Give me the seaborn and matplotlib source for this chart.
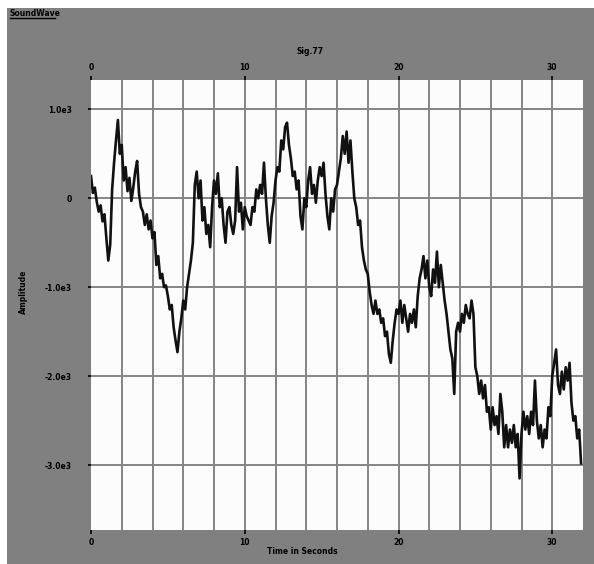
import numpy as np
import pandas as pd
import seaborn as sns
import matplotlib
matplotlib.use("Agg")
import matplotlib.pyplot as plt
from matplotlib.patches import Rectangle
from matplotlib.lines import Line2D

# =============================================================================
# Data (one sample every 0.125 s, one row = 1 s)
# =============================================================================
sample_step = 0.125

amplitude = [
    250, 60, 120, -40, -150, -80, -260, -180,
    -450, -700, -520, 100, 400, 650, 880, 500,
    600, 200, 350, 80, 230, -30, 120, 300,
    420, 50, -100, -150, -300, -180, -350, -250,
    -450, -380, -750, -650, -900, -850, -1000, -980,
    -1100, -1250, -1200, -1450, -1600, -1730, -1500, -1350,
    -1150, -1250, -1000, -850, -700, -500, 150, 300,
    0, 200, -250, -100, -400, -300, -550, -100,
    200, 50, 280, -100, 0, -300, -500, -150,
    -100, -300, -400, -250, 350, -150, -50, -350,
    -100, -200, -250, -300, -100, -150, 100, 0,
    150, 50, 400, 0, -300, -500, -200, -50,
    200, 350, 300, 650, 550, 800, 850, 600,
    450, 250, 300, 100, 200, -200, -350, 0,
    -100, 200, 350, 50, 150, -50, 200, 350,
    250, 400, 50, -200, -350, 0, -150, 100,
    150, 300, 450, 700, 500, 750, 400, 650,
    300, 0, -100, -300, -250, -550, -700, -800,
    -850, -1050, -1200, -1300, -1150, -1300, -1250, -1400,
    -1350, -1550, -1500, -1750, -1850, -1600, -1400, -1250,
    -1300, -1150, -1400, -1200, -1350, -1500, -1300, -1400,
    -1250, -1450, -1100, -900, -800, -650, -900, -700,
    -1000, -1100, -800, -950, -600, -1000, -750, -950,
    -1150, -1300, -1500, -1700, -1800, -2200, -1500, -1400,
    -1500, -1300, -1400, -1200, -1300, -1350, -1150, -1300,
    -1900, -2000, -2200, -2050, -2250, -2100, -2400, -2350,
    -2600, -2350, -2550, -2450, -2650, -2200, -2400, -2800,
    -2550, -2800, -2600, -2750, -2550, -2800, -2650, -3150,
    -2650, -2400, -2600, -2450, -2650, -2400, -2550, -2050,
    -2500, -2700, -2550, -2800, -2600, -2700, -2350, -2450,
    -2000, -1850, -1700, -2100, -2200, -1950, -2150, -1900,
    -2050, -1850, -2300, -2500, -2450, -2700, -2600, -2980,
]

x_ticks = [0, 10, 20, 30]
y_ticks = [1000, 0, -1000, -2000, -3000]
y_tick_labels = ["1.0e3", "0", "-1.0e3", "-2.0e3", "-3.0e3"]

wave_df = pd.DataFrame({
    "Time": np.arange(len(amplitude)) * sample_step,
    "Amplitude": amplitude,
})

# =============================================================================
# Figure
# =============================================================================
fig = plt.figure(figsize=(5.94, 5.64), dpi=100, facecolor="#808080")
# thin white margin on the left and top edge
fig.patches.append(Rectangle((0, 0), 7 / 594, 1, transform=fig.transFigure,
                             facecolor="white", edgecolor="none", zorder=-10))
fig.patches.append(Rectangle((0, 1 - 8 / 564), 1, 8 / 564, transform=fig.transFigure,
                             facecolor="white", edgecolor="none", zorder=-10))

ax = fig.add_axes([91 / 594, 1 - 530 / 564, 492 / 594, 450 / 564])
ax.set_facecolor("#fcfcfc")

sns.lineplot(data=wave_df, x="Time", y="Amplitude", estimator=None,
             color="#111111", linewidth=1.9, ax=ax, zorder=3)

ax.set_xlim(0, 32)
ax.set_ylim(-3730, 1330)

# grid: vertical every 2 s, horizontal every 1000
for xv in np.arange(2, 32, 2):
    ax.axvline(xv, color="#858585", linewidth=1.4, zorder=1)
for yv in y_ticks:
    ax.axhline(yv, color="#858585", linewidth=1.4, zorder=1)

for spine in ax.spines.values():
    spine.set_visible(False)

ax.set_xticks(x_ticks)
ax.set_xticklabels([str(v) for v in x_ticks])
ax.set_yticks(y_ticks)
ax.set_yticklabels(y_tick_labels)
ax.tick_params(axis="x", top=True, labeltop=True, bottom=True, labelbottom=True,
               length=3, width=1.2, color="black", pad=3, labelsize=5.5)
ax.tick_params(axis="y", left=True, length=2, width=1.2, color="black",
               pad=12, labelsize=5.5)
for lbl in ax.get_xticklabels() + ax.get_yticklabels():
    lbl.set_fontweight("bold")
ax.set_xlabel("")
ax.set_ylabel("")

# titles and axis names
fig.text(310 / 594, 1 - 51 / 564, "Sig.77", ha="center", va="center",
         fontsize=5.5, fontweight="bold")
fig.text(302 / 594, 1 - 551 / 564, "Time in Seconds", ha="center", va="center",
         fontsize=5.5, fontweight="bold")
fig.text(23 / 594, 1 - 292 / 564, "Amplitude", ha="center", va="center",
         rotation=90, fontsize=5.5, fontweight="bold")
fig.text(10 / 594, 1 - 14 / 564, "SoundWave", ha="left", va="center",
         fontsize=5.5, fontweight="bold")
fig.lines.append(Line2D([10 / 594, 55 / 594], [1 - 18 / 564, 1 - 18 / 564],
                        transform=fig.transFigure, color="black", linewidth=1))

fig.savefig("out.png", dpi=100, facecolor=fig.get_facecolor())
